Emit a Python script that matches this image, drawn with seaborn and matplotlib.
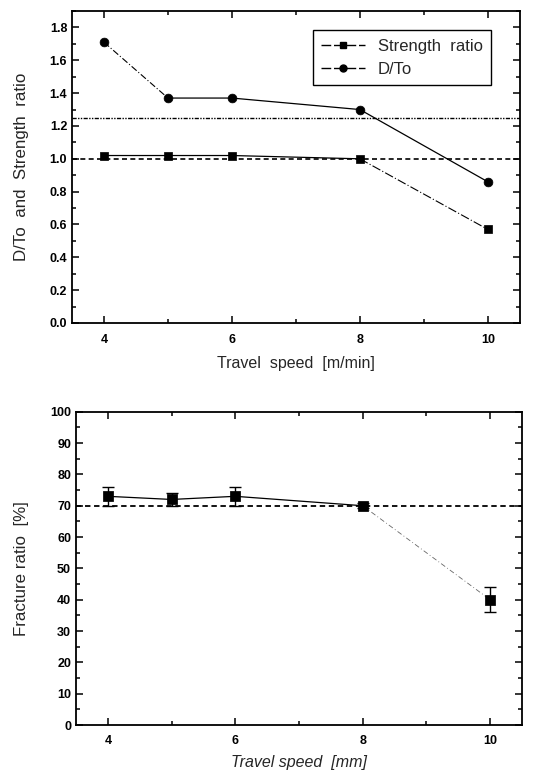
import matplotlib
matplotlib.use("Agg")
import matplotlib.pyplot as plt
import seaborn as sns
import pandas as pd
import numpy as np
from matplotlib.ticker import MultipleLocator
from matplotlib.lines import Line2D

speed = [4, 5, 6, 8, 10]
strength_ratio = [1.02, 1.02, 1.02, 1.00, 0.57]
d_to = [1.71, 1.37, 1.37, 1.30, 0.86]
fracture = [73, 72, 73, 70, 40]
fracture_err = [3, 2, 3, 0.8, 4]
ref_top = [1.25, 1.0]
ref_bottom = 70

sns.set_style("ticks")
plt.rcParams['font.family'] = ['Liberation Sans', 'DejaVu Sans']

fig = plt.figure(figsize=(5.35, 7.77), dpi=100)
ax1 = fig.add_axes([0.1346, 0.5843, 0.837, 0.4015])
ax2 = fig.add_axes([0.142, 0.0669, 0.8336, 0.4032])

df = pd.DataFrame({"speed": speed, "sr": strength_ratio, "dto": d_to,
                   "fr": fracture, "err": fracture_err})

# reference lines
ax1.axhline(ref_top[0], color="black", lw=1.0, ls=(0, (3, 1, 1, 1, 1, 1)))
ax1.axhline(ref_top[1], color="black", lw=1.2, ls=(0, (3, 2)))

# Strength ratio: solid 4-8, dash-dot 8-10
sns.lineplot(data=df.iloc[:4], x="speed", y="sr", ax=ax1, color="black", lw=0.9)
sns.lineplot(data=df.iloc[3:], x="speed", y="sr", ax=ax1, color="black", lw=0.8,
             ls=(0, (8, 2, 1, 2)))
# D/To: dash-dot 4-5, solid 5-10
sns.lineplot(data=df.iloc[:2], x="speed", y="dto", ax=ax1, color="black", lw=0.8,
             ls=(0, (6, 2, 1, 2)))
sns.lineplot(data=df.iloc[1:], x="speed", y="dto", ax=ax1, color="black", lw=0.9)
sns.scatterplot(data=df, x="speed", y="sr", ax=ax1, marker="s", s=40, color="black",
                edgecolor="black", zorder=5)
sns.scatterplot(data=df, x="speed", y="dto", ax=ax1, marker="o", s=40, color="black",
                edgecolor="black", zorder=5)

handles = [Line2D([], [], color="black", marker="s", ms=5, lw=1, ls=(0, (7, 2))),
           Line2D([], [], color="black", marker="o", ms=5, lw=1, ls=(0, (7, 2)))]
leg = ax1.legend(handles, ["Strength  ratio", "D/To"], loc="upper right",
                 bbox_to_anchor=(0.955, 0.965), fancybox=False, framealpha=1,
                 edgecolor="black", fontsize=12, handlelength=2.6,
                 borderpad=0.5, labelspacing=0.5)
leg.get_frame().set_linewidth(1.0)

ax1.set_xlim(3.5, 10.5)
ax1.set_ylim(0, 1.9)
ax1.xaxis.set_major_locator(MultipleLocator(2))
ax1.xaxis.set_minor_locator(MultipleLocator(1))
ax1.yaxis.set_major_locator(MultipleLocator(0.2))
ax1.yaxis.set_minor_locator(MultipleLocator(0.1))
ax1.set_yticks(np.arange(0, 1.81, 0.2))
ax1.set_xlabel("Travel  speed  [m/min]", fontsize=11.5, labelpad=7)
ax1.set_ylabel("D/To  and  Strength  ratio", fontsize=12.2, labelpad=15)

# bottom
ax2.axhline(ref_bottom, color="black", lw=1.3, ls=(0, (3, 2)))
sns.lineplot(data=df.iloc[:4], x="speed", y="fr", ax=ax2, color="black", lw=0.9)
sns.lineplot(data=df.iloc[3:], x="speed", y="fr", ax=ax2, color="black", lw=0.6,
             ls=(0, (6, 3, 1, 3)), alpha=0.6)
ax2.errorbar(df["speed"], df["fr"], yerr=df["err"], fmt="none", ecolor="black",
             capsize=4, elinewidth=1, capthick=1)
sns.scatterplot(data=df, x="speed", y="fr", ax=ax2, marker="s", s=45, color="black",
                edgecolor="black", zorder=5)
ax2.set_xlim(3.5, 10.5)
ax2.set_ylim(0, 100)
ax2.xaxis.set_major_locator(MultipleLocator(2))
ax2.xaxis.set_minor_locator(MultipleLocator(1))
ax2.yaxis.set_major_locator(MultipleLocator(10))
ax2.yaxis.set_minor_locator(MultipleLocator(5))
ax2.set_xlabel("Travel speed  [mm]", fontsize=11.5, style="italic", labelpad=6)
ax2.set_ylabel("Fracture ratio  [%]", fontsize=12.2, labelpad=15)

for ax in (ax1, ax2):
    for s in ax.spines.values():
        s.set_visible(True)
        s.set_linewidth(1.3)
        s.set_color("black")
    ax.tick_params(which="both", direction="in", top=True, right=True,
                   labelsize=9, colors="black", width=1.1)
    ax.tick_params(which="major", length=5)
    ax.tick_params(which="minor", length=3)
    for lab in ax.get_xticklabels() + ax.get_yticklabels():
        lab.set_fontweight("bold")
ax1.tick_params(axis="x", which="major", pad=8)
ax2.tick_params(axis="x", which="major", pad=7)

fig.savefig("out.png", dpi=100)
